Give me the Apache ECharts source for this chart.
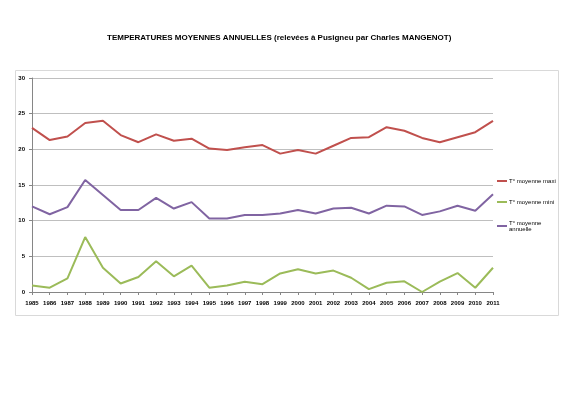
<!DOCTYPE html>
<html>
<head>
<meta charset="utf-8">
<script src="https://cdn.jsdelivr.net/npm/echarts@6/dist/echarts.min.js"></script>
<style>
  html, body { margin: 0; padding: 0; background: #fff; }
  #main { width: 566px; height: 400px; }
</style>
</head>
<body>
<div id="main"></div>
<script>
// années relevées
var years = ['1985', '1986', '1987', '1988', '1989', '1990', '1991', '1992', '1993', '1994',
  '1995', '1996', '1997', '1998', '1999', '2000', '2001', '2002', '2003', '2004',
  '2005', '2006', '2007', '2008', '2009', '2010', '2011'];

var maxi = [23.0, 21.3, 21.8, 23.7, 24.0, 22.0, 21.0, 22.1, 21.2, 21.5,
  20.1, 19.9, 20.3, 20.6, 19.4, 19.9, 19.4, 20.5, 21.6, 21.7,
  23.1, 22.6, 21.6, 21.0, 21.7, 22.4, 24.0];

var mini = [0.9, 0.6, 1.9, 7.7, 3.4, 1.2, 2.1, 4.3, 2.2, 3.7,
  0.6, 0.9, 1.45, 1.1, 2.6, 3.2, 2.6, 3.0, 2.0, 0.4,
  1.3, 1.5, 0.0, 1.45, 2.65, 0.6, 3.4];

var annuelle = [12.0, 10.9, 11.9, 15.7, 13.6, 11.5, 11.5, 13.2, 11.7, 12.6,
  10.3, 10.3, 10.8, 10.8, 11.0, 11.5, 11.0, 11.7, 11.8, 11.0,
  12.1, 12.0, 10.8, 11.3, 12.1, 11.4, 13.7];

var seriesNames = ['T° moyenne maxi', 'T° moyenne mini', 'T° moyenne annuelle'];

var chart = echarts.init(document.getElementById('main'));

var font = '"Liberation Sans", sans-serif';

var option = {
  animation: false,
  color: ['#C0504D', '#9BBB59', '#8064A2'],
  title: {
    text: 'TEMPERATURES MOYENNES ANNUELLES (relevées à Pusigneu par Charles MANGENOT)',
    left: 102,
    top: 29,
    textStyle: {
      fontFamily: font,
      fontSize: 8,
      fontWeight: 'bold',
      color: '#000'
    }
  },
  graphic: [{
    type: 'rect',
    shape: { x: 15.5, y: 70.5, width: 543, height: 245 },
    style: { fill: 'none', stroke: '#D9D9D9', lineWidth: 1 },
    silent: true
  }],
  legend: {
    orient: 'vertical',
    left: 497,
    top: 178,
    padding: 0,
    itemGap: 15,
    itemWidth: 10,
    itemHeight: 2,
    icon: 'rect',
    data: seriesNames,
    formatter: function (name) {
      return name === 'T° moyenne annuelle' ? 'T° moyenne\nannuelle' : name;
    },
    textStyle: {
      fontFamily: font,
      fontSize: 6,
      color: '#000',
      padding: [0, 0, 0, -3]
    }
  },
  grid: {
    left: 32,
    right: 73,
    top: 78,
    bottom: 108
  },
  xAxis: {
    type: 'category',
    boundaryGap: false,
    data: years,
    axisLine: { lineStyle: { color: '#868686' } },
    axisTick: { show: true, length: 3, lineStyle: { color: '#868686' } },
    axisLabel: {
      interval: 0,
      margin: 8,
      fontFamily: font,
      fontSize: 6,
      fontWeight: 'bold',
      color: '#000'
    }
  },
  yAxis: {
    type: 'value',
    min: 0,
    max: 30,
    interval: 5,
    axisLine: { show: true, lineStyle: { color: '#868686' } },
    axisTick: { show: true, length: 3, lineStyle: { color: '#868686' } },
    splitLine: { lineStyle: { color: '#BFBFBF' } },
    axisLabel: {
      margin: 7,
      fontFamily: font,
      fontSize: 6,
      fontWeight: 'bold',
      color: '#000'
    }
  },
  series: [{
    name: seriesNames[0],
    type: 'line',
    symbol: 'none',
    lineStyle: { width: 2 },
    data: maxi
  }, {
    name: seriesNames[1],
    type: 'line',
    symbol: 'none',
    lineStyle: { width: 2 },
    data: mini
  }, {
    name: seriesNames[2],
    type: 'line',
    symbol: 'none',
    lineStyle: { width: 2 },
    data: annuelle
  }]
};

chart.setOption(option);
</script>
</body>
</html>
